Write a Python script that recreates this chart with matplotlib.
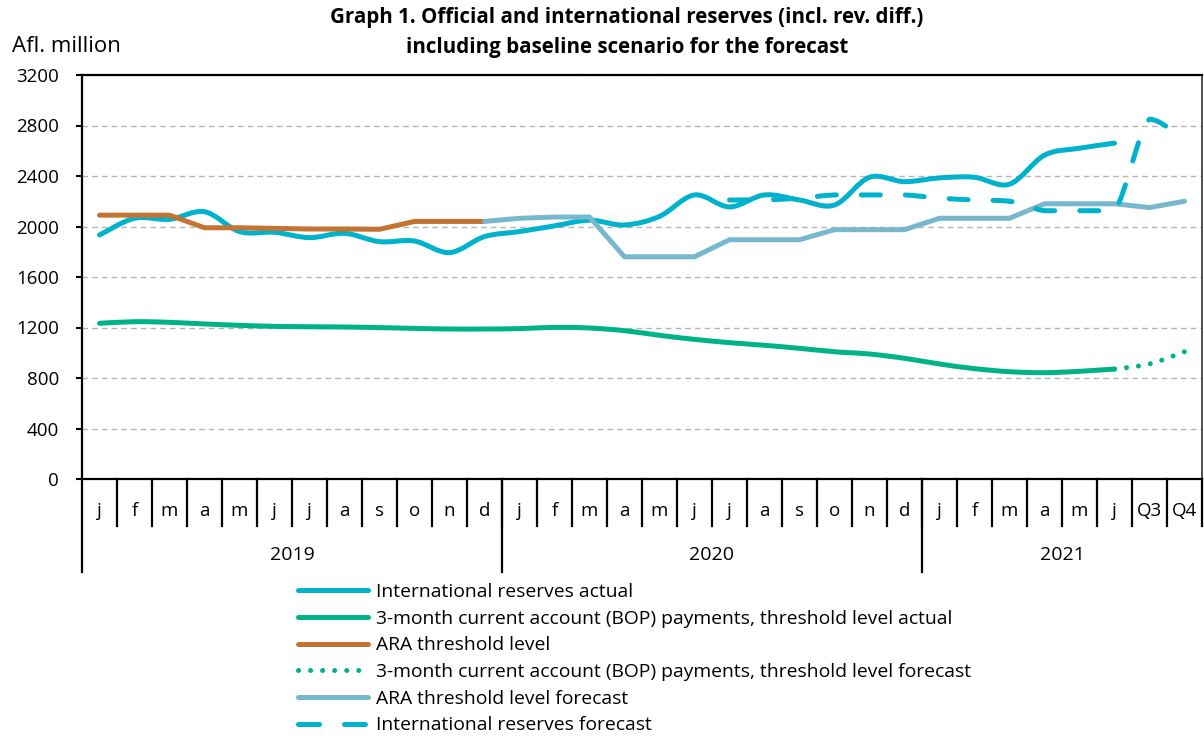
import numpy as np
import matplotlib
matplotlib.use('Agg')
import matplotlib.pyplot as plt
from matplotlib.path import Path
from matplotlib.patches import PathPatch
from matplotlib.lines import Line2D

plt.rcParams['font.family'] = ['Open Sans', 'DejaVu Sans']

# categories
months = ['j', 'f', 'm', 'a', 'm', 'j', 'j', 'a', 's', 'o', 'n', 'd'] * 2 + \
         ['j', 'f', 'm', 'a', 'm', 'j', 'Q3', 'Q4']
years = ['2019', '2020', '2021']
year_spans = [(0, 11), (12, 23), (24, 31)]

# series (Afl. million)
reserves_actual = [1933, 2065, 2057, 2117, 1960, 1954, 1912, 1946, 1880, 1885, 1793, 1920,
                   1960, 2005, 2050, 2012, 2080, 2250, 2155, 2250, 2210, 2170, 2390, 2355,
                   2385, 2390, 2335, 2565, 2620, 2660]
reserves_forecast = [2210, 2210, 2225, 2250, 2250, 2250,
                     2225, 2210, 2200, 2125, 2125, 2125, 2850, 2680]   # jul 2020 .. Q4 2021
cab_actual = [1233, 1246, 1241, 1228, 1217, 1209, 1206, 1204, 1199, 1193, 1188, 1188,
              1191, 1201, 1196, 1175, 1138, 1106, 1080, 1059, 1035, 1008, 990, 956,
              911, 874, 850, 842, 853, 871]
cab_forecast = [871, 911, 1008]                                          # jun 2021 .. Q4
ara_level = [2090, 2090, 2090, 1990, 1990, 1985, 1980, 1980, 1978, 2040, 2040, 2040]
ara_forecast = [2040, 2065, 2075, 2075, 1760, 1760, 1760, 1895, 1895, 1895, 1975, 1975, 1975,
                2065, 2065, 2065, 2180, 2180, 2180, 2150, 2200]           # dec 2019 .. Q4

c_res = '#00B2CC'
c_cab = '#00B386'
c_ara = '#C47432'
c_araf = '#78B8CE'
LW = 3.6


def smooth_path(xs, ys, clamp=False):
    # excel-like smoothed line: cubic bezier through the points
    pts = np.column_stack([xs, ys]).astype(float)
    n = len(pts)
    verts = [pts[0]]
    codes = [Path.MOVETO]
    for i in range(n - 1):
        p0 = pts[max(i - 1, 0)]
        p1 = pts[i]
        p2 = pts[i + 1]
        p3 = pts[min(i + 2, n - 1)]
        c1 = p1 + (p2 - p0) / 6
        c2 = p2 - (p3 - p1) / 6
        if clamp:
            lo, hi = min(p1[1], p2[1]), max(p1[1], p2[1])
            c1[1] = np.clip(c1[1], lo, hi)
            c2[1] = np.clip(c2[1], lo, hi)
        verts += [c1, c2, p2]
        codes += [Path.CURVE4] * 3
    return Path(verts, codes)


def add_smooth(ax, xs, ys, clamp=False, **kw):
    patch = PathPatch(smooth_path(xs, ys, clamp), fill=False, capstyle='round',
                      joinstyle='round', **kw)
    ax.add_patch(patch)
    return patch


fig = plt.figure(figsize=(12.04, 7.36), dpi=100)
ax = fig.add_axes([82 / 1204, 1 - 479 / 736, 1120 / 1204, 404 / 736])

x_res = np.arange(len(reserves_actual))
x_resf = np.arange(18, 18 + len(reserves_forecast))
x_cab = np.arange(len(cab_actual))
x_cabf = np.arange(29, 29 + len(cab_forecast))
x_ara = np.arange(len(ara_level))
x_araf = np.arange(11, 11 + len(ara_forecast))

add_smooth(ax, x_res, reserves_actual, edgecolor=c_res, lw=LW, zorder=3)
add_smooth(ax, x_cab, cab_actual, edgecolor=c_cab, lw=LW, zorder=3)
ax.plot(x_ara, ara_level, color=c_ara, lw=LW, solid_capstyle='round', zorder=3)
add_smooth(ax, x_cabf, cab_forecast, edgecolor=c_cab, lw=LW, linestyle=(0, (0.01, 2.4)), zorder=3)
ax.plot(x_araf, ara_forecast, color=c_araf, lw=LW, solid_capstyle='round', zorder=3)
add_smooth(ax, x_resf, reserves_forecast, clamp=True, edgecolor=c_res, lw=LW,
           linestyle=(0, (3.8, 5.0)), zorder=4)

ax.set_xlim(-0.5, len(months) - 0.5)
ax.set_ylim(0, 3200)
ax.set_yticks(np.arange(0, 3201, 400))
ax.tick_params(axis='y', direction='out', length=4.5, width=1.5, pad=12, labelsize=13.5)
ax.set_xticks([])
ax.yaxis.grid(True, color='#B4B4B4', linestyle=(0, (4, 3)), lw=1)
ax.set_axisbelow(True)
for s in ['left', 'bottom', 'top']:
    ax.spines[s].set_linewidth(1.6)
    ax.spines[s].set_color('black')
ax.spines['right'].set_linewidth(1.2)
ax.spines['right'].set_color('#333333')

# multi-level category axis
xt = ax.get_xaxis_transform()
for i in range(len(months)):
    ax.text(i, -0.078, months[i], transform=xt, ha='center', va='center', fontsize=13.5)
for b in np.arange(0.5, len(months) - 0.5, 1.0):
    ax.plot([b, b], [0, -0.116], transform=xt, color='black', lw=1.6, clip_on=False)
ax.plot([len(months) - 0.5] * 2, [0, -0.116], transform=xt, color='black', lw=1.6, clip_on=False)
for b in [-0.5, 11.5, 23.5]:
    ax.plot([b, b], [0, -0.23], transform=xt, color='black', lw=1.6, clip_on=False)
for yr, (a, b) in zip(years, year_spans):
    ax.text((a + b) / 2, -0.188, yr, transform=xt, ha='center', va='center', fontsize=14)

fig.text(627 / 1204, 1 - 18 / 736, 'Graph 1. Official and international reserves (incl. rev. diff.)',
         ha='center', va='center', fontsize=14.8, fontweight='bold')
fig.text(627 / 1204, 1 - 47 / 736, 'including baseline scenario for the forecast',
         ha='center', va='center', fontsize=14.8, fontweight='bold')
fig.text(12 / 1204, 1 - 47 / 736, 'Afl. million', ha='left', va='center', fontsize=16)

handles = [
    Line2D([], [], color=c_res, lw=LW, solid_capstyle='round'),
    Line2D([], [], color=c_cab, lw=LW, solid_capstyle='round'),
    Line2D([], [], color=c_ara, lw=LW, solid_capstyle='round'),
    Line2D([], [], color=c_cab, lw=LW, linestyle=(0, (0.01, 2.4)), dash_capstyle='round'),
    Line2D([], [], color=c_araf, lw=LW, solid_capstyle='round'),
    Line2D([], [], color=c_res, lw=LW, linestyle=(0, (4.2, 5.0)), dash_capstyle='round'),
]
labels = [
    'International reserves actual',
    '3-month current account (BOP) payments, threshold level actual',
    'ARA threshold level',
    '3-month current account (BOP) payments, threshold level forecast',
    'ARA threshold level forecast',
    'International reserves forecast',
]
fig.legend(handles, labels, loc='upper left', bbox_to_anchor=(298 / 1204, 1 - 583 / 736),
           frameon=False, fontsize=13.9, handlelength=3.6, handletextpad=0.45,
           labelspacing=0.45, borderpad=0, borderaxespad=0)

fig.savefig('out.png', dpi=100)
